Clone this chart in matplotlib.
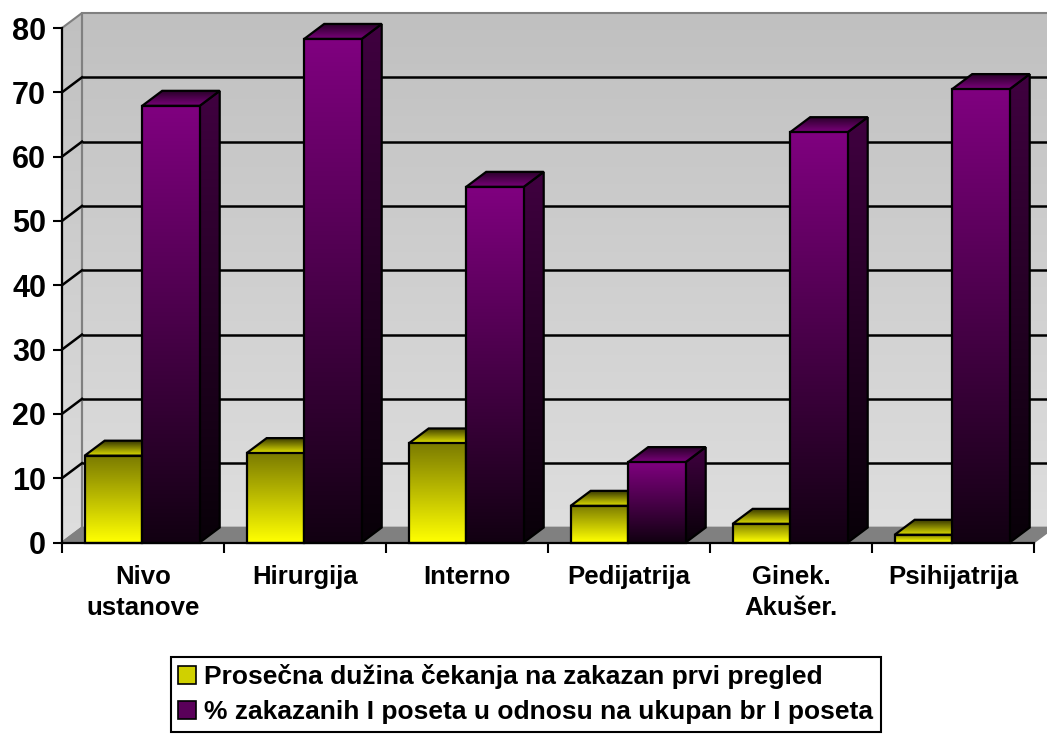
import numpy as np
import matplotlib
matplotlib.use('Agg')
import matplotlib.pyplot as plt
from matplotlib.patches import Polygon, Rectangle
from matplotlib.colors import LinearSegmentedColormap

plt.rcParams['font.family'] = ['Liberation Sans', 'DejaVu Sans']
plt.rcParams['font.weight'] = 'bold'

# ---- data ----
categories = ['Nivo\nustanove', 'Hirurgija', 'Interno', 'Pedijatrija', 'Ginek.\nAkušer.', 'Psihijatrija']
wait_avg = [13.5, 13.9, 15.4, 5.7, 2.9, 1.2]
pct_scheduled = [67.9, 78.3, 55.3, 12.5, 63.8, 70.5]
series_names = ['Prosečna dužina čekanja na zakazan prvi pregled',
                '% zakazanih I poseta u odnosu na ukupan br I poseta']
yticks = [0, 10, 20, 30, 40, 50, 60, 70, 80]

# ---- figure / axes ----
W, H = 1047, 735
fig = plt.figure(figsize=(W / 100, H / 100), dpi=100)
x0, x1, y0, y1 = 62, 1034, 542.5, 28
ax = fig.add_axes([x0 / W, (H - y0) / H, (x1 - x0) / W, (y0 - y1) / H])
ax.patch.set_visible(False)
n = len(categories)
YMAX = yticks[-1]
XL, XR = -0.5, n - 0.5
# 3D depth offset (20 px right, 15 px up) in data units
DX = 20 / ((x1 - x0) / n)
DY = 15 / ((y0 - y1) / YMAX)


def grad_poly(verts, c_top, c_bot, z, edge='black', lw=1.6):
    poly = Polygon(verts, closed=True, facecolor='none', edgecolor=edge,
                   lw=lw, zorder=z + 0.001, clip_on=False, joinstyle='miter')
    ax.add_patch(poly)
    xs = [v[0] for v in verts]
    ys = [v[1] for v in verts]
    cmap = LinearSegmentedColormap.from_list('g', [c_bot, c_top])
    grad = np.linspace(0, 1, 256).reshape(-1, 1)
    im = ax.imshow(grad, cmap=cmap, aspect='auto', origin='lower',
                   extent=[min(xs), max(xs), min(ys), max(ys)], zorder=z,
                   interpolation='bilinear')
    im.set_clip_path(poly)
    im.set_clip_box(fig.bbox)
    return poly


# walls
wall_top, wall_bot = '#c0c0c0', '#dedede'
grad_poly([(XL + DX, DY), (XR + DX, DY), (XR + DX, YMAX + DY), (XL + DX, YMAX + DY)],
          wall_top, wall_bot, 0.5, edge='#808080', lw=1.5)
grad_poly([(XL, 0), (XL + DX, DY), (XL + DX, YMAX + DY), (XL, YMAX)],
          wall_top, wall_bot, 0.5, edge='#808080', lw=1.5)
# floor
ax.add_patch(Polygon([(XL, 0), (XR, 0), (XR + DX, DY), (XL + DX, DY)], closed=True,
                     facecolor='#808080', edgecolor='#808080', lw=1.2, zorder=0.6,
                     clip_on=False))

# gridlines
for v in yticks[1:-1]:
    ax.plot([XL + DX, XR + DX], [v + DY, v + DY], color='black', lw=1.8,
            zorder=0.8, clip_on=False, solid_capstyle='butt')
    ax.plot([XL, XL + DX], [v, v + DY], color='black', lw=1.8, zorder=0.8,
            clip_on=False)

# bars
BW = 0.355
for i in range(n):
    z = 2 + i * 0.1
    # yellow
    xl = i - 0.36
    xr = xl + BW
    h = wait_avg[i]
    grad_poly([(xl, h), (xr, h), (xr + DX, h + DY), (xl + DX, h + DY)],
              '#3a3a00', '#e0e000', z)
    grad_poly([(xl, 0), (xr, 0), (xr, h), (xl, h)], '#7a7a00', '#ffff00', z + 0.01)
    # purple
    pl = xr
    pr = pl + BW
    p = pct_scheduled[i]
    grad_poly([(pr, 0), (pr + DX, DY), (pr + DX, p + DY), (pr, p)],
              '#400040', '#080008', z + 0.02)
    grad_poly([(pl, p), (pr, p), (pr + DX, p + DY), (pl + DX, p + DY)],
              '#2a002a', '#7a007a', z + 0.03)
    grad_poly([(pl, 0), (pr, 0), (pr, p), (pl, p)], '#800080', '#120012', z + 0.04)

ax.set_xlim(XL, XR)
ax.set_ylim(0, YMAX)

# axes styling
for s in ['top', 'right']:
    ax.spines[s].set_visible(False)
for s in ['left', 'bottom']:
    ax.spines[s].set_linewidth(1.6)
    ax.spines[s].set_zorder(5)
ax.set_yticks(yticks)
ax.set_yticklabels([str(t) for t in yticks], fontsize=22, fontweight='bold')
ax.tick_params(axis='y', length=6.5, width=1.5, pad=5, direction='out')
ax.set_xticks(range(n))
ax.set_xticklabels(categories, fontsize=18.5, fontweight='bold', linespacing=1.4)
ax.set_xticks(np.arange(n + 1) - 0.5, minor=True)
ax.tick_params(axis='x', which='major', length=0, pad=16)
ax.tick_params(axis='x', which='minor', length=7, width=1.5, direction='out')

# legend
handles = [Rectangle((0, 0), 1, 1, facecolor='#d0d000', edgecolor='black', lw=1.2),
           Rectangle((0, 0), 1, 1, facecolor='#5a005a', edgecolor='black', lw=1.2)]
leg = fig.legend(handles, series_names, loc='center', bbox_to_anchor=(0.502, 0.0555),
                 frameon=True, fancybox=False, edgecolor='black', framealpha=1,
                 prop={'size': 19, 'weight': 'bold'}, handlelength=0.7,
                 handleheight=0.7, handletextpad=0.3, borderpad=0.28,
                 labelspacing=0.42, borderaxespad=0)
leg.get_frame().set_linewidth(1.5)

fig.savefig('out.png', dpi=100)
